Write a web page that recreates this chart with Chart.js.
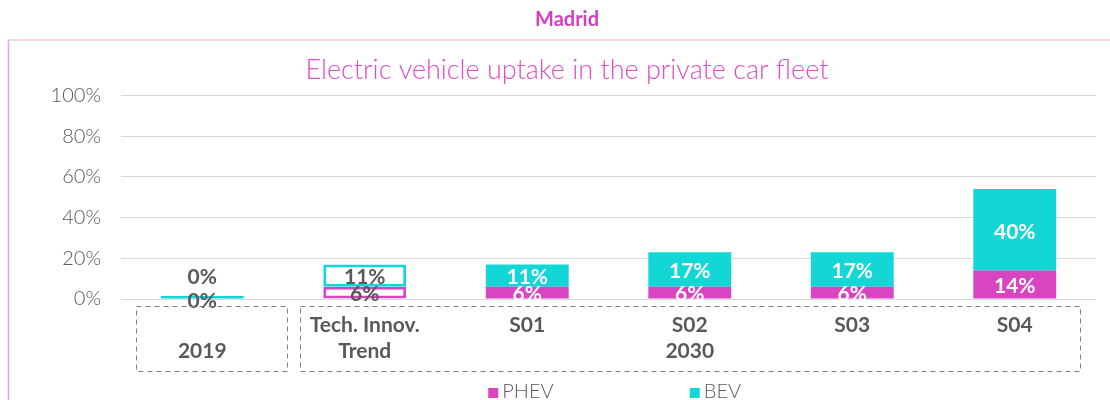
<!DOCTYPE html>
<html>
<head>
<meta charset="utf-8">
<script src="https://cdn.jsdelivr.net/npm/chart.js@4.4.1/dist/chart.umd.min.js"></script>
<style>
body { margin: 0; background: #fff; }
#wrap { width: 1110px; height: 400px; }
</style>
</head>
<body>
<div id="wrap"><canvas id="mycanvas" width="1110" height="400"></canvas></div>
<script>
var categories = [['', '2019'], ['Tech. Innov.', 'Trend'], ['S01'], ['S02', '2030'], ['S03'], ['S04']];
var phev = [0, 6, 6, 6, 6, 14];
var bev = [0.4, 11, 11, 17, 17, 40];
var yTicks = [0, 20, 40, 60, 80, 100];
var seriesNames = ['PHEV', 'BEV'];

var pink = '#d944c1';
var teal = '#13d6d6';
var grey = '#595959';
var font = 'Lato, "Open Sans", sans-serif';

// decorations: value labels, dashed group boxes, legend, frame lines
var decor = {
  id: 'decor',
  afterDatasetsDraw: function(chart) {
    var ctx = chart.ctx;
    ctx.save();
    ctx.font = 'bold 21px ' + font;
    ctx.textAlign = 'center';
    ctx.textBaseline = 'middle';
    chart.data.datasets.forEach(function(ds, di) {
      var meta = chart.getDatasetMeta(di);
      meta.data.forEach(function(bar, i) {
        var top = Math.min(bar.y, bar.base), bot = Math.max(bar.y, bar.base);
        var h = bot - top;
        var y = (top + bot) / 2 + 2;
        if (h < 6 && di === 1) y = top - 19;
        var filled = ds.backgroundColor[i] !== '#ffffff' && h > 8;
        ctx.fillStyle = filled ? '#ffffff' : grey;
        ctx.fillText(Math.round(ds.data[i]) + '%', bar.x, y);
      });
    });
    ctx.restore();
  },
  afterDraw: function(chart) {
    var ctx = chart.ctx, x = chart.scales.x, area = chart.chartArea;
    ctx.save();
    // frame
    ctx.strokeStyle = '#f8d6f0';
    ctx.lineWidth = 2;
    ctx.beginPath(); ctx.moveTo(8, 40); ctx.lineTo(1110, 40); ctx.stroke();
    ctx.strokeStyle = '#f2a2dd';
    ctx.lineWidth = 1.5;
    ctx.beginPath(); ctx.moveTo(8.5, 40); ctx.lineTo(8.5, 400); ctx.stroke();
    // dashed group boxes
    ctx.strokeStyle = '#7f7f7f';
    ctx.lineWidth = 1;
    ctx.setLineDash([5, 4]);
    var y0 = area.bottom + 7.5, y1 = area.bottom + 72.5;
    var boxes = [[-0.41, 0.52], [0.6, 5.4]];
    boxes.forEach(function(b) {
      var l = Math.round(x.getPixelForValue(b[0])) + 0.5;
      var r = Math.round(x.getPixelForValue(b[1])) + 0.5;
      ctx.strokeRect(l, y0, r - l, y1 - y0);
    });
    ctx.setLineDash([]);
    // legend
    ctx.font = '300 20px ' + font;
    ctx.textBaseline = 'middle';
    ctx.textAlign = 'left';
    var lx = [x.getPixelForValue(1.76), x.getPixelForValue(3)];
    var colors = [pink, teal];
    seriesNames.forEach(function(n, k) {
      ctx.fillStyle = colors[k];
      ctx.fillRect(lx[k], 388, 10, 10);
      ctx.fillStyle = grey;
      ctx.fillText(n, lx[k] + 14, 392);
    });
    ctx.restore();
  }
};

var chartdata = {
  labels: categories,
  datasets: [
    {
      label: seriesNames[0],
      data: phev,
      backgroundColor: [pink, '#ffffff', pink, pink, pink, pink],
      borderColor: pink,
      borderWidth: [0, 3, 0, 0, 0, 0],
      borderSkipped: false,
      barPercentage: 0.85,
      categoryPercentage: 0.6
    },
    {
      label: seriesNames[1],
      data: bev,
      backgroundColor: [teal, '#ffffff', teal, teal, teal, teal],
      borderColor: teal,
      borderWidth: [0, 3, 0, 0, 0, 0],
      borderSkipped: false,
      minBarLength: 3,
      barPercentage: 0.85,
      categoryPercentage: 0.6
    }
  ]
};

var ctx = document.querySelector('#mycanvas');

var barGraph = new Chart(ctx, {
  type: 'bar',
  data: chartdata,
  plugins: [decor],
  options: {
    responsive: false,
    animation: false,
    layout: { padding: { left: 38, right: 14, top: 0, bottom: 0 } },
    plugins: {
      legend: { display: false },
      tooltip: { enabled: false },
      title: {
        display: true,
        text: 'Madrid',
        color: '#d63cbf',
        font: { family: font, size: 20, weight: 'bold' },
        padding: { top: 8, bottom: 22 }
      },
      subtitle: {
        display: true,
        text: 'Electric vehicle uptake in the private car fleet',
        color: '#e04cc6',
        font: { family: font, size: 27, weight: '300' },
        padding: { top: 0, bottom: 9 }
      }
    },
    scales: {
      x: {
        stacked: true,
        grid: { display: false, drawTicks: false },
        border: { display: false },
        ticks: {
          color: grey,
          padding: 13,
          font: { family: font, size: 21, weight: 'bold', lineHeight: '26px' }
        },
        afterFit: function(s) { s.height = 101; }
      },
      y: {
        stacked: true,
        min: 0,
        max: 100,
        afterBuildTicks: function(s) { s.ticks = yTicks.map(function(v) { return { value: v }; }); },
        grid: { color: '#d9d9d9', drawTicks: false },
        border: { display: false },
        ticks: {
          color: grey,
          padding: 20,
          font: { family: font, size: 20, weight: '300' },
          callback: function(v) { return v + '%'; }
        },
        afterFit: function(s) { s.width = 83; }
      }
    }
  }
});
</script>
</body>
</html>
